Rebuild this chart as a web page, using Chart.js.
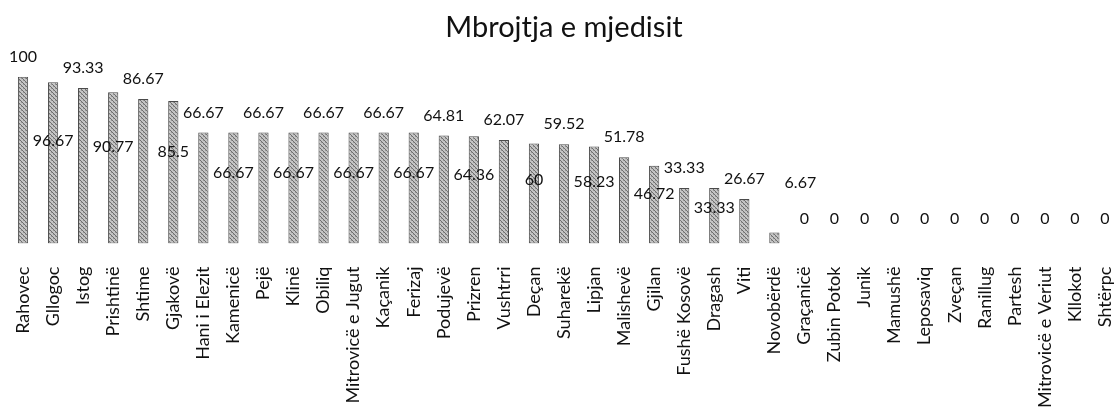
<!DOCTYPE html>
<html>
<head>
<meta charset="utf-8">
<script src="https://cdn.jsdelivr.net/npm/chart.js@4.4.1/dist/chart.umd.min.js"></script>
<style>
  html, body { margin: 0; padding: 0; background: #fff; }
  #wrap { width: 1120px; height: 411px; }
</style>
</head>
<body>
<div id="wrap"><canvas id="myChart"></canvas></div>
<script>
const municipalities = [
    'Rahovec', 'Gllogoc', 'Istog', 'Prishtinë', 'Shtime', 'Gjakovë', 'Hani i Elezit',
    'Kamenicë', 'Pejë', 'Klinë', 'Obiliq', 'Mitrovicë e Jugut', 'Kaçanik', 'Ferizaj',
    'Podujevë', 'Prizren', 'Vushtrri', 'Deçan', 'Suharekë', 'Lipjan', 'Malishevë',
    'Gjilan', 'Fushë Kosovë', 'Dragash', 'Viti', 'Novobërdë', 'Graçanicë', 'Zubin Potok',
    'Junik', 'Mamushë', 'Leposaviq', 'Zveçan', 'Ranillug', 'Partesh',
    'Mitrovicë e Veriut', 'Kllokot', 'Shtërpc'
];
const scores = [
    100, 96.67, 93.33, 90.77, 86.67, 85.5, 66.67,
    66.67, 66.67, 66.67, 66.67, 66.67, 66.67, 66.67,
    64.81, 64.36, 62.07, 60, 59.52, 58.23, 51.78,
    46.72, 33.33, 33.33, 26.67, 6.67, 0, 0,
    0, 0, 0, 0, 0, 0,
    0, 0, 0
];

const fontFamily = "Lato, 'Open Sans', sans-serif";

// hatched grey fill like the printed original
function makePattern() {
    const c = document.createElement('canvas');
    c.width = 4; c.height = 4;
    const p = c.getContext('2d');
    p.fillStyle = '#c4c4c4';
    p.fillRect(0, 0, 4, 4);
    p.fillStyle = '#6e6e6e';
    for (let i = 0; i < 4; i++) {
        p.fillRect(i, i, 1, 1);
    }
    p.fillStyle = '#999';
    p.fillRect(3, 0, 1, 1);
    p.fillRect(1, 2, 1, 1);
    return p.createPattern(c, 'repeat');
}

// value labels: alternate above the bar / inside the bar
const valueLabels = {
    id: 'valueLabels',
    afterDatasetsDraw(chart) {
        const ctx = chart.ctx;
        const meta = chart.getDatasetMeta(0);
        ctx.save();
        ctx.font = '16px ' + fontFamily;
        ctx.fillStyle = '#111';
        ctx.textAlign = 'center';
        ctx.textBaseline = 'middle';
        meta.data.forEach((bar, i) => {
            const v = scores[i];
            const h = bar.base - bar.y;
            let x = bar.x;
            let y;
            if (v === 0) {
                y = bar.y - 25;
            } else if (i % 2 === 1 && h >= 20) {
                y = bar.base - 0.64 * h;
            } else if (i % 2 === 1) {
                // tiny bar: label pushed up and to the right
                y = bar.y - 50;
                x = bar.x + 26;
            } else {
                y = bar.y - 20;
            }
            ctx.fillText(String(v), x, y);
        });
        ctx.restore();
    }
};

const ctx = document.getElementById('myChart').getContext('2d');

const myChart = new Chart(ctx, {
    type: 'bar',
    data: {
        labels: municipalities,
        datasets: [{
            data: scores,
            backgroundColor: makePattern(),
            borderColor: '#4a4a4a',
            borderWidth: 1,
            borderSkipped: false,
            barPercentage: 0.34,
            categoryPercentage: 1,
        }],
    },
    options: {
        responsive: true,
        maintainAspectRatio: false,
        animation: false,
        layout: {
            padding: { left: 8, right: 0, top: 0, bottom: -12 },
        },
        scales: {
            x: {
                grid: { display: false },
                border: { display: false },
                afterFit(scale) {
                    scale.paddingLeft = 0;
                    scale.paddingRight = 0;
                },
                ticks: {
                    color: '#111',
                    font: { size: 18, family: fontFamily },
                    minRotation: 90,
                    maxRotation: 90,
                    autoSkip: false,
                    padding: 15,
                },
            },
            y: {
                display: false,
                min: 0,
                max: 100,
            },
        },
        plugins: {
            legend: { display: false },
            tooltip: { enabled: false },
            title: {
                display: true,
                text: 'Mbrojtja e mjedisit',
                color: '#111',
                font: { size: 29, family: fontFamily, weight: 'normal' },
                padding: { top: 10, bottom: 32 },
            },
        },
    },
    plugins: [valueLabels],
});
</script>
</body>
</html>
